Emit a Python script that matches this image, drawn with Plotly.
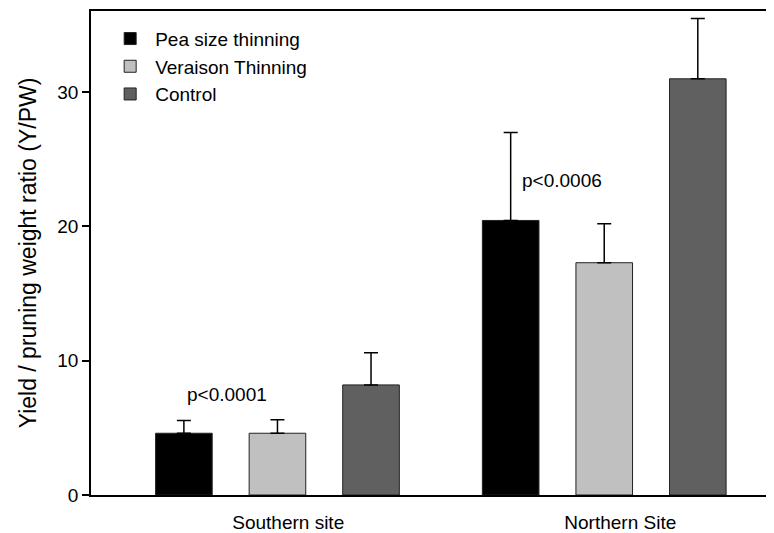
import plotly.graph_objects as go

sites = ["Southern site", "Northern Site"]
site_pos = [0, 1]
treatments = ["Pea size thinning", "Veraison Thinning", "Control"]
colors = ["#000000", "#c0c0c0", "#606060"]
means = {
    "Pea size thinning": [4.6, 20.45],
    "Veraison Thinning": [4.6, 17.3],
    "Control": [8.2, 31.0],
}
errors = {
    "Pea size thinning": [0.95, 6.55],
    "Veraison Thinning": [1.0, 2.9],
    "Control": [2.4, 4.5],
}
pvalues = ["p<0.0001", "p<0.0006"]
p_x = [-0.155, 0.871]
p_y = [7.5, 23.4]
label_pos = [0.033, 1.049]

FONT = "Liberation Sans, Arial, sans-serif"

fig = go.Figure()
for t, c in zip(treatments, colors):
    fig.add_trace(go.Bar(
        name=t, x=site_pos, y=means[t],
        marker=dict(color=c, line=dict(color="#222222", width=1)),
        error_y=dict(type="data", array=errors[t], symmetric=False,
                     arrayminus=[0] * len(site_pos),
                     color="black", thickness=1.5, width=7),
    ))

for p, px, py in zip(pvalues, p_x, p_y):
    fig.add_annotation(x=px, y=py, text=p, showarrow=False,
                       font=dict(size=19, color="black", family=FONT))

fig.update_layout(
    width=774, height=533,
    margin=dict(l=83, r=0, t=3, b=46),
    paper_bgcolor="white", plot_bgcolor="white",
    barmode="group", bargap=0.141, bargroupgap=0.395,
    font=dict(family=FONT, size=19, color="black"),
    showlegend=True,
    legend=dict(x=0.0205, y=0.982, xanchor="left", yanchor="top",
                font=dict(size=19), bgcolor="rgba(0,0,0,0)",
                itemwidth=40, tracegroupgap=0),
    xaxis=dict(range=[-0.5706, 1.544], tickvals=label_pos, ticktext=sites,
               showline=True, linecolor="black", linewidth=1.5, mirror=True,
               ticks="", showgrid=False, zeroline=False,
               ticklabelstandoff=9, tickfont=dict(size=19)),
    yaxis=dict(range=[0, 36.05], tickvals=[0, 10, 20, 30],
               showline=True, linecolor="black", linewidth=1.5,
               ticks="outside", ticklen=7, tickwidth=1.5, tickcolor="black",
               showgrid=False, zeroline=False, tickfont=dict(size=19),
               title=dict(text="Yield / pruning weight ratio (Y/PW)",
                          font=dict(size=23), standoff=14)),
)

fig.write_html("out.html")
